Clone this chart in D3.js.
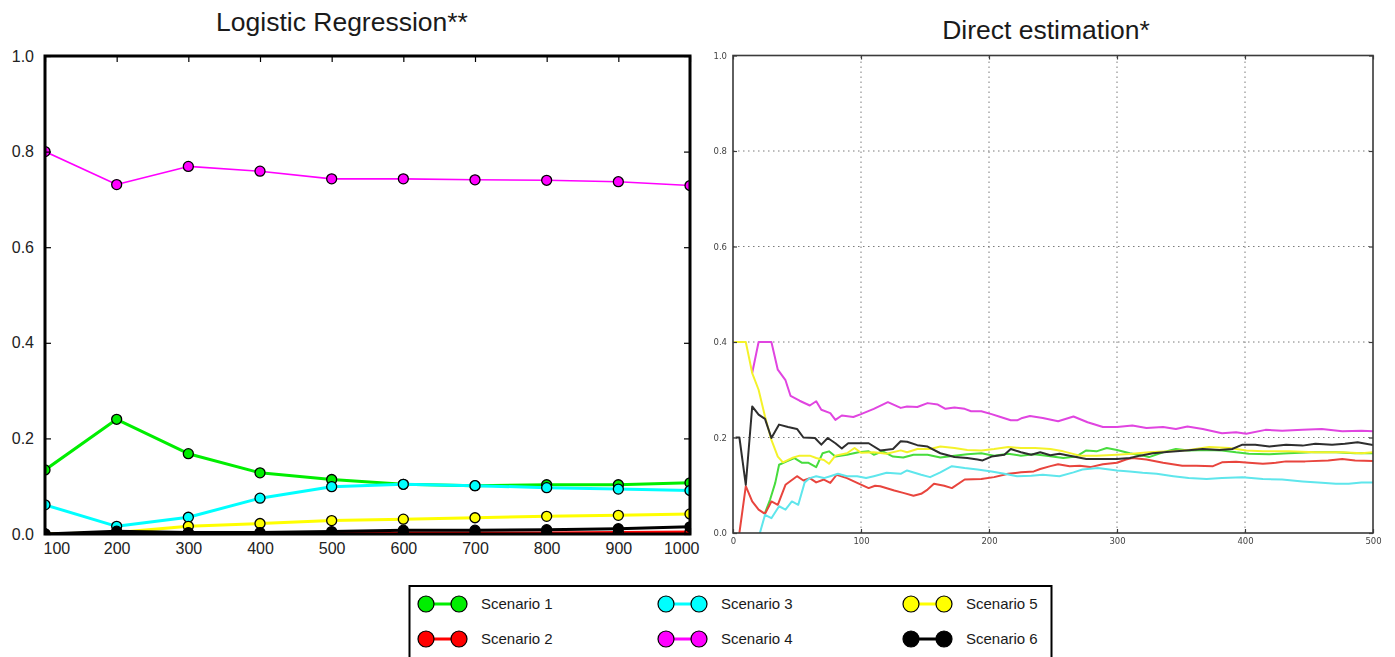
<!DOCTYPE html>
<html>
<head>
<meta charset="utf-8">
<script src="https://cdn.jsdelivr.net/npm/d3@7"></script>
<style>
  html, body { margin: 0; padding: 0; background: #fff; }
  svg { display: block; }
</style>
</head>
<body>
<svg id="chart" width="1395" height="657"></svg>
<script>
// ---- Logistic regression panel: sample sizes and per-scenario estimates ----
const lrSizes = [100, 200, 300, 400, 500, 600, 700, 800, 900, 1000];
const lrScenario1 = [0.134, 0.240, 0.168, 0.128, 0.114, 0.104, 0.101, 0.103, 0.103, 0.107];
const lrScenario2 = [0.000, 0.000, 0.001, 0.001, 0.001, 0.002, 0.002, 0.002, 0.003, 0.004];
const lrScenario3 = [0.061, 0.016, 0.035, 0.075, 0.099, 0.104, 0.101, 0.097, 0.094, 0.091];
const lrScenario4 = [0.800, 0.731, 0.769, 0.759, 0.743, 0.743, 0.741, 0.740, 0.737, 0.729];
const lrScenario5 = [0.000, 0.003, 0.016, 0.022, 0.028, 0.031, 0.034, 0.037, 0.039, 0.042];
const lrScenario6 = [0.000, 0.006, 0.003, 0.003, 0.005, 0.008, 0.008, 0.009, 0.011, 0.015];

// ---- Direct estimation panel: [n, estimate] pairs per scenario ----
const deScenario1 = [[25,0.042],[29,0.07],[33,0.105],[36,0.143],[42,0.15],[48,0.157],[54,0.147],[59,0.147],[65,0.138],[70,0.167],[75,0.171],[80,0.16],[89,0.164],[98,0.169],[106,0.171],[110,0.164],[117,0.171],[125,0.16],[133,0.158],[141,0.164],[152,0.164],[162,0.158],[173,0.162],[183,0.165],[194,0.167],[204,0.162],[215,0.166],[225,0.162],[235,0.165],[245,0.162],[258,0.157],[268,0.16],[276,0.173],[284,0.171],[292,0.178],[300,0.174],[310,0.167],[320,0.162],[325,0.159],[336,0.169],[346,0.176],[356,0.173],[370,0.174],[382,0.173],[393,0.169],[403,0.166],[419,0.165],[434,0.167],[452,0.169],[471,0.169],[486,0.167],[500,0.167]];
const deScenario2 = [[5,0.0],[10,0.098],[15,0.066],[20,0.049],[25,0.04],[30,0.066],[35,0.059],[41,0.101],[50,0.119],[55,0.11],[60,0.115],[65,0.106],[71,0.112],[76,0.105],[81,0.122],[89,0.115],[97,0.105],[106,0.094],[111,0.099],[115,0.098],[126,0.089],[133,0.084],[141,0.078],[147,0.082],[152,0.091],[157,0.103],[165,0.099],[171,0.094],[181,0.112],[194,0.113],[204,0.117],[215,0.124],[225,0.127],[235,0.129],[240,0.134],[248,0.14],[254,0.144],[263,0.14],[271,0.141],[279,0.138],[289,0.144],[300,0.147],[307,0.154],[312,0.157],[323,0.154],[336,0.147],[351,0.141],[362,0.141],[375,0.14],[382,0.148],[393,0.149],[403,0.147],[414,0.145],[424,0.147],[432,0.15],[447,0.15],[465,0.152],[476,0.155],[486,0.152],[500,0.151]];
const deScenario3 = [[21,0.0],[25,0.038],[30,0.031],[36,0.056],[41,0.049],[46,0.066],[51,0.059],[56,0.106],[60,0.115],[65,0.119],[71,0.115],[76,0.119],[82,0.124],[89,0.119],[97,0.119],[104,0.115],[110,0.119],[120,0.126],[131,0.124],[136,0.131],[147,0.122],[154,0.117],[162,0.127],[171,0.14],[181,0.136],[191,0.133],[202,0.129],[212,0.124],[222,0.119],[233,0.12],[242,0.122],[255,0.119],[266,0.127],[273,0.133],[285,0.136],[300,0.131],[310,0.129],[320,0.126],[331,0.124],[344,0.119],[356,0.115],[370,0.113],[382,0.115],[398,0.117],[414,0.113],[429,0.112],[445,0.108],[460,0.105],[471,0.103],[481,0.103],[491,0.106],[500,0.106]];
const deScenario4 = [[15,0.335],[20,0.4],[30,0.4],[35,0.342],[41,0.32],[45,0.287],[52,0.277],[60,0.267],[65,0.276],[69,0.258],[76,0.251],[80,0.237],[85,0.246],[94,0.243],[100,0.249],[110,0.26],[121,0.274],[131,0.262],[136,0.265],[144,0.264],[152,0.272],[160,0.269],[166,0.26],[173,0.263],[181,0.26],[186,0.255],[194,0.255],[202,0.249],[209,0.243],[217,0.236],[222,0.236],[226,0.241],[232,0.245],[242,0.241],[254,0.234],[266,0.244],[277,0.232],[289,0.222],[300,0.222],[312,0.225],[323,0.22],[336,0.222],[346,0.218],[355,0.223],[367,0.218],[382,0.209],[393,0.211],[401,0.208],[416,0.216],[429,0.214],[445,0.216],[460,0.218],[476,0.213],[491,0.214],[500,0.213]];
const deScenario5 = [[1,0.4],[10,0.4],[15,0.335],[20,0.3],[25,0.244],[30,0.195],[35,0.16],[39,0.148],[46,0.157],[52,0.162],[60,0.162],[65,0.157],[71,0.153],[75,0.145],[80,0.162],[89,0.167],[95,0.178],[100,0.168],[110,0.169],[120,0.166],[131,0.173],[136,0.169],[144,0.176],[154,0.176],[162,0.181],[173,0.178],[183,0.174],[194,0.173],[204,0.176],[215,0.18],[225,0.178],[236,0.178],[248,0.176],[258,0.171],[271,0.162],[284,0.162],[300,0.164],[312,0.166],[325,0.169],[341,0.171],[356,0.174],[372,0.18],[388,0.178],[401,0.173],[414,0.171],[434,0.171],[455,0.169],[476,0.169],[491,0.167],[500,0.169]];
const deScenario6 = [[2,0.2],[5,0.2],[10,0.101],[15,0.265],[20,0.248],[25,0.239],[30,0.199],[36,0.227],[43,0.222],[50,0.218],[55,0.2],[64,0.199],[69,0.185],[74,0.199],[80,0.188],[85,0.177],[90,0.188],[98,0.188],[106,0.188],[115,0.173],[125,0.176],[131,0.192],[136,0.191],[144,0.184],[152,0.181],[162,0.167],[173,0.159],[183,0.157],[191,0.154],[195,0.152],[202,0.16],[212,0.164],[217,0.176],[225,0.169],[233,0.164],[240,0.169],[248,0.163],[255,0.166],[266,0.16],[276,0.155],[289,0.155],[300,0.155],[310,0.157],[318,0.162],[328,0.167],[341,0.17],[354,0.173],[367,0.176],[380,0.174],[390,0.176],[398,0.185],[408,0.185],[419,0.181],[432,0.185],[445,0.183],[455,0.187],[468,0.185],[478,0.187],[488,0.19],[500,0.184]];

const scenarioNames = ["Scenario 1", "Scenario 2", "Scenario 3", "Scenario 4", "Scenario 5", "Scenario 6"];
const lrColors = ["#00ee00", "#ff0000", "#00ffff", "#ff00ff", "#ffff00", "#000000"];
const deColors = ["#46dc3c", "#e8443e", "#5ee6ec", "#e044e0", "#f4f22c", "#2e2e2e"];
const lrTicksY = [0, 0.2, 0.4, 0.6, 0.8, 1.0];
const deTicksX = [0, 100, 200, 300, 400, 500];
const deTicksY = [0, 0.2, 0.4, 0.6, 0.8, 1.0];

const svg = d3.select("#chart");
const defs = svg.append("defs");

// =================== Left panel ===================
const xL = d3.scaleLinear().domain([100, 1000]).range([45, 690]);
const yL = d3.scaleLinear().domain([0, 1]).range([534, 56]);

svg.append("text")
  .attr("x", 342).attr("y", 31)
  .attr("text-anchor", "middle")
  .attr("font-family", "Liberation Sans, Arial, sans-serif")
  .attr("font-size", 26.5).attr("fill", "#1a1a1a")
  .text("Logistic Regression**");

defs.append("clipPath").attr("id", "clipL")
  .append("rect")
  .attr("x", xL.range()[0]).attr("y", yL.range()[1])
  .attr("width", xL.range()[1] - xL.range()[0])
  .attr("height", yL.range()[0] - yL.range()[1]);

const lrSeries = [lrScenario1, lrScenario2, lrScenario3, lrScenario4, lrScenario5, lrScenario6];
const gL = svg.append("g").attr("clip-path", "url(#clipL)");
const lineL = d3.line().x(d => xL(d[0])).y(d => yL(d[1]));
lrSeries.forEach((vals, i) => {
  const pts = lrSizes.map((n, k) => [n, vals[k]]);
  gL.append("path").datum(pts)
    .attr("d", lineL)
    .attr("fill", "none")
    .attr("stroke", lrColors[i])
    .attr("stroke-width", i === 3 ? 1.6 : 3)
    .attr("stroke-linejoin", "round");
  gL.selectAll(null).data(pts).enter().append("circle")
    .attr("cx", d => xL(d[0])).attr("cy", d => yL(d[1]))
    .attr("r", 5)
    .attr("fill", lrColors[i])
    .attr("stroke", "#000").attr("stroke-width", 1.3);
});

// frame and inward ticks
const frameL = svg.append("g");
frameL.append("rect")
  .attr("x", xL.range()[0]).attr("y", yL.range()[1])
  .attr("width", xL.range()[1] - xL.range()[0])
  .attr("height", yL.range()[0] - yL.range()[1])
  .attr("fill", "none").attr("stroke", "#000").attr("stroke-width", 3);

const axBL = d3.axisBottom(xL).tickValues(lrSizes).tickSizeInner(-6).tickSizeOuter(0).tickFormat(d3.format("d"));
const axTL = d3.axisTop(xL).tickValues(lrSizes).tickSizeInner(-6).tickSizeOuter(0).tickFormat("");
const axLL = d3.axisLeft(yL).tickValues(lrTicksY).tickSizeInner(-6).tickSizeOuter(0).tickFormat(d3.format(".1f"));
const axRL = d3.axisRight(yL).tickValues(lrTicksY).tickSizeInner(-6).tickSizeOuter(0).tickFormat("");

function styleAxis(g, font, size, color) {
  g.select(".domain").remove();
  g.selectAll("line").attr("stroke", "#000").attr("stroke-width", 1.2);
  g.selectAll("text").attr("font-family", font).attr("font-size", size).attr("fill", color);
}
const gxb = frameL.append("g").attr("transform", `translate(0,${yL(0)})`).call(axBL);
styleAxis(gxb, "Liberation Sans, Arial, sans-serif", 16, "#222");
gxb.selectAll("text").attr("dy", "1.0em").attr("y", 4);
gxb.selectAll(".tick").filter(d => d === 100).select("text").attr("text-anchor", "start").attr("dx", -2);
gxb.selectAll(".tick").filter(d => d === 1000).select("text").attr("text-anchor", "end").attr("dx", 9);
const gxt = frameL.append("g").attr("transform", `translate(0,${yL(1)})`).call(axTL);
styleAxis(gxt, "Liberation Sans, Arial, sans-serif", 16, "#222");
const gyl = frameL.append("g").attr("transform", `translate(${xL(100)},0)`).call(axLL);
styleAxis(gyl, "Liberation Sans, Arial, sans-serif", 16, "#222");
gyl.selectAll("text").attr("x", -11);
const gyr = frameL.append("g").attr("transform", `translate(${xL(1000)},0)`).call(axRL);
styleAxis(gyr, "Liberation Sans, Arial, sans-serif", 16, "#222");

// =================== Right panel ===================
const xR = d3.scaleLinear().domain([0, 500]).range([733, 1373]);
const yR = d3.scaleLinear().domain([0, 1]).range([533, 55.5]);

svg.append("text")
  .attr("x", 1046).attr("y", 39)
  .attr("text-anchor", "middle")
  .attr("font-family", "Liberation Sans, Arial, sans-serif")
  .attr("font-size", 26.5).attr("fill", "#1a1a1a")
  .text("Direct estimation*");

defs.append("filter").attr("id", "soft")
  .append("feGaussianBlur").attr("stdDeviation", 0.55);
defs.append("clipPath").attr("id", "clipR")
  .append("rect")
  .attr("x", xR.range()[0]).attr("y", yR.range()[1])
  .attr("width", xR.range()[1] - xR.range()[0])
  .attr("height", yR.range()[0] - yR.range()[1]);

const gR = svg.append("g").attr("filter", "url(#soft)");

// dotted grid
const grid = gR.append("g");
grid.selectAll(null).data(deTicksX.slice(1, -1)).enter().append("line")
  .attr("x1", d => xR(d)).attr("x2", d => xR(d))
  .attr("y1", yR(0)).attr("y2", yR(1))
  .attr("stroke", "#7a7a7a").attr("stroke-width", 1).attr("stroke-dasharray", "1.5,3.5");
grid.selectAll(null).data(deTicksY.slice(1, -1)).enter().append("line")
  .attr("x1", xR(0)).attr("x2", xR(500))
  .attr("y1", d => yR(d)).attr("y2", d => yR(d))
  .attr("stroke", "#7a7a7a").attr("stroke-width", 1).attr("stroke-dasharray", "1.5,3.5");

const deSeries = [deScenario1, deScenario2, deScenario3, deScenario4, deScenario5, deScenario6];
const lineR = d3.line().x(d => xR(d[0])).y(d => yR(d[1]));
const dataR = gR.append("g").attr("clip-path", "url(#clipR)");
deSeries.forEach((pts, i) => {
  dataR.append("path").datum(pts)
    .attr("d", lineR)
    .attr("fill", "none")
    .attr("stroke", deColors[i])
    .attr("stroke-width", 2)
    .attr("stroke-linejoin", "round");
});

gR.append("rect")
  .attr("x", xR.range()[0]).attr("y", yR.range()[1])
  .attr("width", xR.range()[1] - xR.range()[0])
  .attr("height", yR.range()[0] - yR.range()[1])
  .attr("fill", "none").attr("stroke", "#3a3a3a").attr("stroke-width", 1.6);

const axBR = d3.axisBottom(xR).tickValues(deTicksX).tickSizeInner(-4).tickSizeOuter(0).tickFormat(d3.format("d"));
const axTR = d3.axisTop(xR).tickValues(deTicksX).tickSizeInner(-4).tickSizeOuter(0).tickFormat("");
const axLR = d3.axisLeft(yR).tickValues(deTicksY).tickSizeInner(-4).tickSizeOuter(0).tickFormat(d3.format(".1f"));
const axRR = d3.axisRight(yR).tickValues(deTicksY).tickSizeInner(-4).tickSizeOuter(0).tickFormat("");
function styleAxisR(g) {
  g.select(".domain").remove();
  g.selectAll("line").attr("stroke", "#3a3a3a").attr("stroke-width", 1.2);
  g.selectAll("text").attr("font-family", "DejaVu Sans, sans-serif").attr("font-size", 8.5).attr("fill", "#444");
}
const rxb = gR.append("g").attr("transform", `translate(0,${yR(0)})`).call(axBR);
styleAxisR(rxb);
rxb.selectAll("text").attr("y", 5);
const rxt = gR.append("g").attr("transform", `translate(0,${yR(1)})`).call(axTR);
styleAxisR(rxt);
const ryl = gR.append("g").attr("transform", `translate(${xR(0)},0)`).call(axLR);
styleAxisR(ryl);
ryl.selectAll("text").attr("x", -6);
const ryr = gR.append("g").attr("transform", `translate(${xR(500)},0)`).call(axRR);
styleAxisR(ryr);

// =================== Legend ===================
const legend = svg.append("g");
legend.append("rect")
  .attr("x", 409.5).attr("y", 586)
  .attr("width", 642).attr("height", 72)
  .attr("fill", "#fff").attr("stroke", "#000").attr("stroke-width", 2);
const colX = [426, 666, 911];
const rowY = [604, 639];
scenarioNames.forEach((name, i) => {
  const cx = colX[Math.floor(i / 2)];
  const cy = rowY[i % 2];
  const item = legend.append("g");
  item.append("line")
    .attr("x1", cx).attr("x2", cx + 33).attr("y1", cy).attr("y2", cy)
    .attr("stroke", lrColors[i]).attr("stroke-width", 3);
  [cx, cx + 33].forEach(px => {
    item.append("circle").attr("cx", px).attr("cy", cy).attr("r", 8)
      .attr("fill", lrColors[i]).attr("stroke", "#000").attr("stroke-width", 1.2);
  });
  item.append("text")
    .attr("x", cx + 55).attr("y", cy).attr("dy", "0.35em")
    .attr("font-family", "Liberation Sans, Arial, sans-serif")
    .attr("font-size", 15).attr("fill", "#1a1a1a")
    .text(name);
});
</script>
</body>
</html>
